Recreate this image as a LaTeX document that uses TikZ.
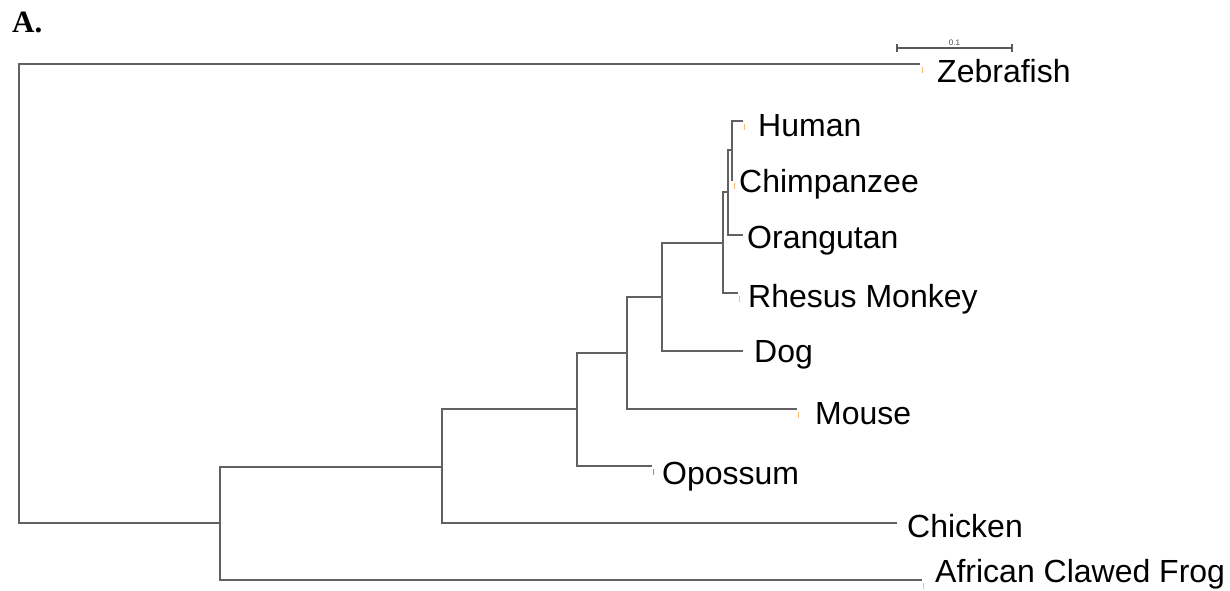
\documentclass[tikz,border=0pt]{standalone}
\usepackage{fontspec}
\setmainfont{Liberation Sans}
\newfontfamily\titlefont{Liberation Serif}
\begin{document}
\begin{tikzpicture}[x=1pt,y=-1pt,
  branch/.style={draw=black!62,line width=1.3pt},
  leaf/.style={anchor=base west,inner sep=0pt,font=\fontsize{32}{38}\selectfont},
  tick/.style={draw=orange!55,line width=0.8pt},
  scalebar/.style={draw=black!65,line width=1.1pt}]
\useasboundingbox (0,0) rectangle (1230,590);
% title
\node[anchor=base west,inner sep=0pt,font=\titlefont\bfseries\fontsize{31}{36}\selectfont] (title) at (12,32) {A.};
% internal nodes
\coordinate (root) at (19,293);
\coordinate (n1) at (220,523);
\coordinate (n2) at (442,467);
\coordinate (n3) at (577,409);
\coordinate (n4) at (627,353);
\coordinate (n5) at (662,297);
\coordinate (n6) at (723,243);
\coordinate (n7) at (728,192);
\coordinate (n8) at (732,150);
% tips
\coordinate (tzeb) at (920,64);
\coordinate (thum) at (743,121);
\coordinate (tchi) at (733,180);
\coordinate (tora) at (743,235);
\coordinate (trhe) at (738,293);
\coordinate (tdog) at (743,351);
\coordinate (tmou) at (797,409);
\coordinate (topo) at (652,466);
\coordinate (tchk) at (897,523);
\coordinate (tfro) at (922,580);
% branches
\draw[branch] (root) |- (tzeb);
\draw[branch] (root) |- (n1);
\draw[branch] (n1) |- (n2);
\draw[branch] (n1) |- (tfro);
\draw[branch] (n2) |- (n3);
\draw[branch] (n2) |- (tchk);
\draw[branch] (n3) |- (n4);
\draw[branch] (n3) |- (topo);
\draw[branch] (n4) |- (n5);
\draw[branch] (n4) |- (tmou);
\draw[branch] (n5) |- (n6);
\draw[branch] (n5) |- (tdog);
\draw[branch] (n6) |- (n7);
\draw[branch] (n6) |- (trhe);
\draw[branch] (n7) |- (n8);
\draw[branch] (n7) |- (tora);
\draw[branch] (n8) |- (thum);
\draw[branch] (n8) |- (tchi);
% small tip marks
\draw[tick] ([xshift=2pt,yshift=-3pt]tzeb) -- ++(0,6);
\draw[tick] ([xshift=1pt,yshift=-3pt]thum) -- ++(0,6);
\draw[tick] ([xshift=1pt,yshift=-3pt]tchi) -- ++(0,6);
\draw[tick] ([xshift=1pt,yshift=-3pt]trhe) -- ++(0,6);
\draw[tick] ([xshift=1pt,yshift=-3pt]tmou) -- ++(0,6);
\draw[tick,draw=black!45] ([xshift=1pt,yshift=-3pt]topo) -- ++(0,6);
\draw[tick] ([xshift=1pt,yshift=-3pt]tfro) -- ++(0,6);
% labels
\node[leaf] (lzeb) at (937,82) {Zebrafish};
\node[leaf] (lhum) at (758,136) {Human};
\node[leaf] (lchi) at (739,192) {Chimpanzee};
\node[leaf] (lora) at (747,248) {Orangutan};
\node[leaf] (lrhe) at (748,307) {Rhesus Monkey};
\node[leaf] (ldog) at (754,362) {Dog};
\node[leaf] (lmou) at (815,424) {Mouse};
\node[leaf] (lopo) at (662,484) {Opossum};
\node[leaf] (lchk) at (907,537) {Chicken};
\node[leaf] (lfro) at (935,582) {African Clawed Frog};
% scale bar
\coordinate (sb1) at (897,48);
\coordinate (sb2) at (1012,48);
\draw[scalebar] (sb1) -- (sb2);
\draw[scalebar] ([yshift=-4pt]sb1) -- ([yshift=4pt]sb1);
\draw[scalebar] ([yshift=-4pt]sb2) -- ([yshift=4pt]sb2);
\node[inner sep=0pt,font=\fontsize{8}{9}\selectfont,text=black!70,anchor=base] (sblabel) at (954.5,45) {0.1};
\end{tikzpicture}
\end{document}
